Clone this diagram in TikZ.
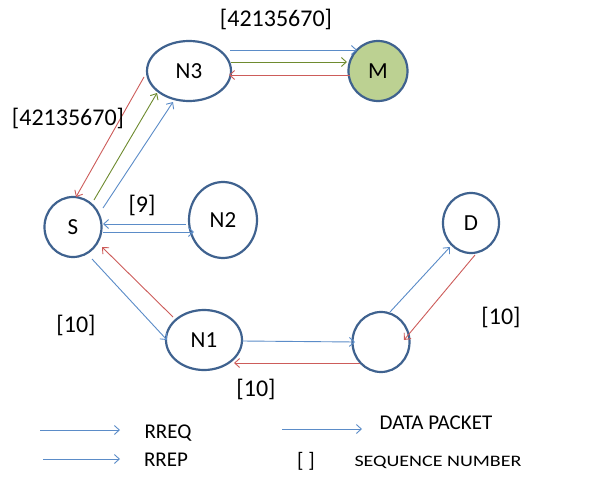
\documentclass[tikz,border=0pt]{standalone}
\usepackage{fontspec}
\usepackage{graphicx}
\setmainfont{Carlito}
\usetikzlibrary{arrows.meta,shapes.geometric}
\definecolor{nodeborder}{HTML}{3F628F}
\definecolor{cblue}{HTML}{5B8CC8}
\definecolor{cred}{HTML}{CD5C5A}
\definecolor{cgreen}{HTML}{6E8B2F}
\definecolor{mfill}{HTML}{BCD192}
\tikzset{
  nd/.style={draw=nodeborder, line width=2.2pt, ellipse, inner sep=0pt, font=\fontsize{23}{23}\selectfont},
  lbl/.style={font=\fontsize{24}{24}\selectfont, inner sep=0pt},
  leg/.style={font=\fontsize{21}{21}\selectfont, inner sep=0pt},
  small/.style={font=\fontsize{16}{16}\selectfont, inner sep=0pt},
  arr/.style={line width=0.9pt, -{Straight Barb[length=5pt,width=9pt]}},
  bl/.style={arr, draw=cblue},
  rd/.style={arr, draw=cred},
  gr/.style={arr, draw=cgreen},
}
\begin{document}
\begin{tikzpicture}[x=1pt,y=-1pt]
\useasboundingbox (0,0) rectangle (590,479);
\fill[white] (0,0) rectangle (590,479);
% nodes
\node[nd, minimum width=84pt, minimum height=60pt] (N3) at (189,71) {N3};
\node[nd, fill=mfill, minimum width=59pt, minimum height=60pt] (M) at (378,71) {M};
\node[nd, minimum width=57pt, minimum height=60pt] (S) at (73,227) {S};
\node[nd, minimum width=68pt, minimum height=76pt] (N2) at (223,220) {N2};
\node[nd, minimum width=76pt, minimum height=60pt] (N1) at (204,340) {N1};
\node[nd, minimum width=57pt, minimum height=60pt] (X) at (381,342) {};
\node[nd, minimum width=56pt, minimum height=60pt] (D) at (471,223) {D};
% N3 -- M
\coordinate (a1) at (230,50); \coordinate (a2) at (357,50);
\draw[bl] (a1) -- (a2);
\coordinate (a3) at (231,62); \coordinate (a4) at (347,62);
\draw[gr] (a3) -- (a4);
\coordinate (a5) at (350,75); \coordinate (a6) at (229,75);
\draw[rd] (a5) -- (a6);
% S -- N3
\coordinate (r1) at (144,77); \coordinate (r2) at (76,197);
\draw[rd] (r1) -- (r2);
\coordinate (g1) at (94,200); \coordinate (g2) at (157,93);
\draw[gr] (g1) -- (g2);
\coordinate (b1) at (103,208); \coordinate (b2) at (173,102);
\draw[bl] (b1) -- (b2);
% S -- N2
\coordinate (s1) at (186,224); \coordinate (s2) at (103,224);
\draw[bl] (s1) -- (s2);
\coordinate (s3) at (103,232); \coordinate (s4) at (194,232);
\draw[bl] (s3) -- (s4);
% S -- N1
\coordinate (t1) at (92,259); \coordinate (t2) at (167,340);
\draw[bl] (t1) -- (t2);
\coordinate (t3) at (173,317); \coordinate (t4) at (102,247);
\draw[rd] (t3) -- (t4);
% N1 -- X
\coordinate (u1) at (242,341); \coordinate (u2) at (355,342);
\draw[bl] (u1) -- (u2);
\coordinate (u3) at (360,363); \coordinate (u4) at (234,363);
\draw[rd] (u3) -- (u4);
% X -- D
\coordinate (v1) at (390,312); \coordinate (v2) at (450,247);
\draw[bl] (v1) -- (v2);
\coordinate (v3) at (475,255); \coordinate (v4) at (404,340);
\draw[rd] (v3) -- (v4);
% labels
\node[lbl] (l1) at (276,19) {[42135670]};
\node[lbl] (l2) at (68,118) {[42135670]};
\node[lbl] (l3) at (142,205) {[9]};
\node[lbl] (l4) at (76,325) {[10]};
\node[lbl] (l5) at (501,317) {[10]};
\node[lbl] (l6) at (256,389) {[10]};
% legend
\coordinate (k1) at (40,430); \coordinate (k2) at (120,430);
\draw[bl] (k1) -- (k2);
\node[leg] (rreq) at (168,433) {RREQ};
\coordinate (k3) at (43,459); \coordinate (k4) at (120,459);
\draw[bl] (k3) -- (k4);
\node[leg] (rrep) at (166,460) {RREP};
\coordinate (k5) at (282,429); \coordinate (k6) at (362,429);
\draw[bl] (k5) -- (k6);
\node[leg] (dp) at (436,423) {DATA PACKET};
\node[leg] (br) at (306,461) {[ ]};
\node[small] (sn) at (438,462) {\scalebox{1.25}[1]{SEQUENCE NUMBER}};
\end{tikzpicture}
\end{document}
